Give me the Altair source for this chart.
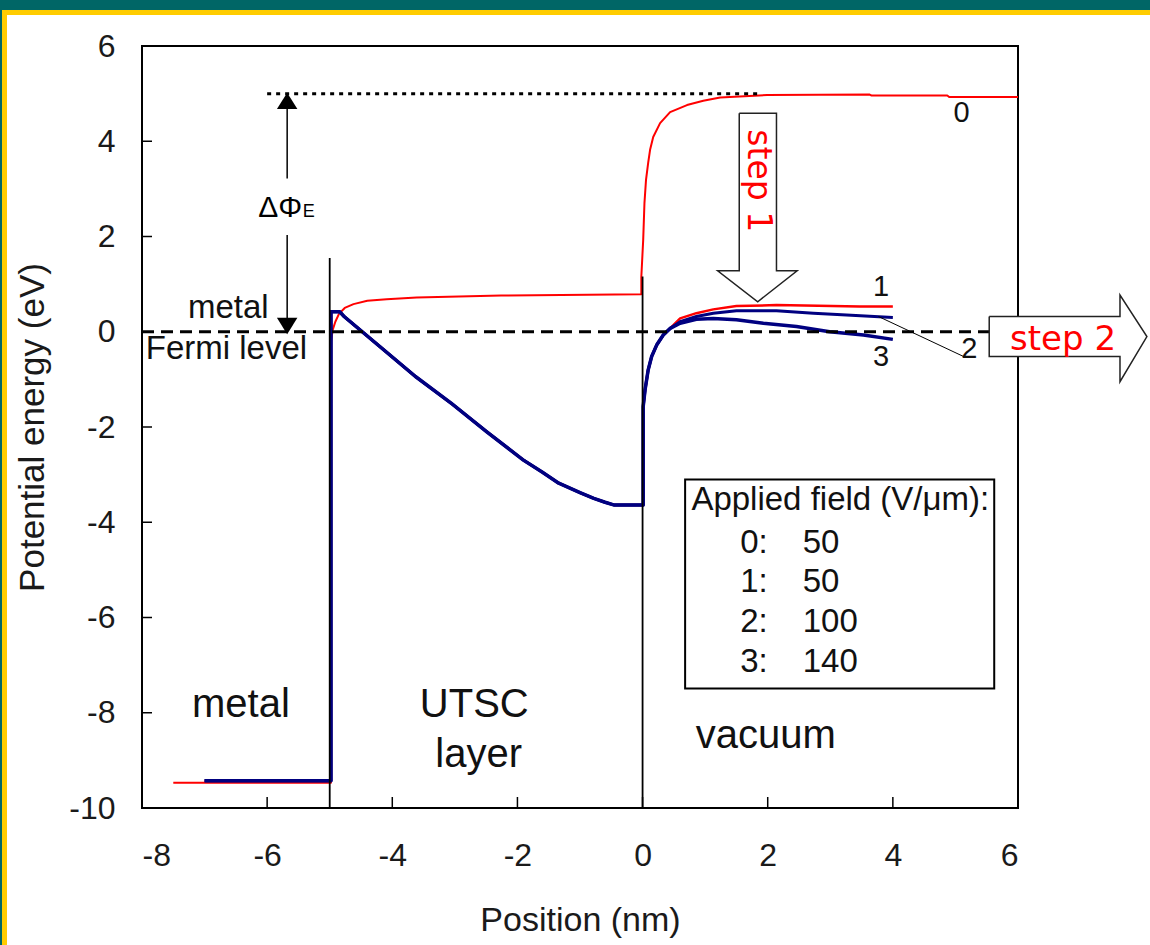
import altair as alt
import pandas as pd

# ---------------- data ----------------
X_DOMAIN = [-8, 6]
Y_DOMAIN = [-10, 6]
x_tick_values = [-8, -6, -4, -2, 0, 2, 4, 6]
y_tick_values = [-10, -8, -6, -4, -2, 0, 2, 4, 6]
x_inner_ticks = [-6, -4, -2, 0, 2, 4]
y_inner_ticks = [-8, -6, -4, -2, 0, 2, 4]

# curve 0 (50 V/um, before step 1)
curve0_x = [-7.5, -4.98, -4.98, -4.95, -4.91, -4.85, -4.76, -4.62, -4.40, -4.09,
            -3.61, -2.26, -0.02, -0.02, 0.01, 0.03, 0.055, 0.09, 0.12, 0.17,
            0.28, 0.44, 0.71, 0.97, 1.24, 1.99, 3.63, 3.66, 4.87, 4.90, 6.0]
curve0_y = [-9.47, -9.47, -0.20, 0.05, 0.21, 0.38, 0.50, 0.58, 0.65, 0.68,
            0.72, 0.76, 0.79, 1.15, 1.93, 2.70, 3.19, 3.55, 3.82, 4.09,
            4.38, 4.61, 4.76, 4.85, 4.92, 4.97, 4.98, 4.96, 4.96, 4.93, 4.93]

# shared part of curves 1-3 (metal + UTSC layer)
layer_x = [-7.0, -4.98, -4.98, -4.84, -4.77, -4.48, -4.20, -3.63, -3.06, -2.49,
           -1.91, -1.60, -1.34, -1.00, -0.78, -0.60, -0.45, 0.01]
layer_y = [-9.43, -9.43, 0.42, 0.42, 0.32, 0.0, -0.31, -0.94, -1.50, -2.10,
           -2.69, -2.95, -3.18, -3.38, -3.50, -3.58, -3.64, -3.64]
# shared rise in vacuum
rise_x = [0.01, 0.04, 0.09, 0.145, 0.225, 0.33, 0.44]
rise_y = [-1.57, -1.22, -0.80, -0.52, -0.28, -0.07, 0.07]
# vacuum tails
tail1_x = [0.60, 0.86, 1.13, 1.50, 2.14, 3.47, 4.0]
tail1_y = [0.28, 0.39, 0.47, 0.54, 0.56, 0.53, 0.53]
tail2_x = [0.60, 0.86, 1.13, 1.50, 2.14, 2.73, 3.26, 4.0]
tail2_y = [0.21, 0.32, 0.39, 0.44, 0.44, 0.39, 0.35, 0.30]
tail3_x = [0.60, 0.86, 1.13, 1.50, 1.93, 2.46, 2.99, 3.53, 4.0]
tail3_y = [0.18, 0.26, 0.28, 0.25, 0.18, 0.11, 0.0, -0.07, -0.16]

curve_names = ["0", "1", "2", "3"]
curve_colors = ["#ff0000", "#ff0000", "#000080", "#000080"]
curve_widths = [2.0, 3.5, 3.5, 3.5]

# boundaries
boundary_x = [-5, 0]
boundary_top = [1.55, 1.16]
boundary_bottom = [-10, -10]

# reference lines
vacuum_level_x = [-6.0, 1.9]
vacuum_level_y = 5.0
fermi_x = [-8.0, 5.6]
fermi_y = 0.0

# work-function arrow
dphi_x = -5.68
dphi_seg_top = [5.0, 2.03]
dphi_seg_bottom = [3.22, 0.2]
dphi_head_up_y = 5.02
dphi_head_down_y = -0.05

# legend box
legbox = dict(x=0.68, x2=5.62, y=-3.10, y2=-7.49)
legend_title = "Applied field (V/μm):"
legend_ids = ["0:", "1:", "2:", "3:"]
legend_vals = ["50", "50", "100", "140"]
legend_rows_y = [-4.43, -5.25, -6.09, -6.93]

# curve labels
clabel_text = ["0", "1", "2", "3"]
clabel_x = [5.10, 3.81, 5.22, 3.81]
clabel_y = [4.60, 0.94, -0.36, -0.54]
leader_x = [3.77, 5.13]
leader_y = [0.32, -0.52]

# region labels
region_text = ["metal", "UTSC", "layer", "vacuum"]
region_x = [-6.42, -2.69, -2.62, 1.97]
region_y = [-8.09, -8.09, -9.14, -8.74]

# block arrows (outline polygons + fill pieces)
step1_outline_x = [1.545, 2.14, 2.14, 2.47, 1.84, 1.20, 1.545, 1.545]
step1_outline_y = [4.59, 4.59, 1.28, 1.28, 0.63, 1.28, 1.28, 4.59]
step1_shaft = dict(x=1.545, x2=2.14, y=4.59, y2=1.28)
step1_head_y = [1.28, 0.63]
step1_head_xl = [1.20, 1.84]
step1_head_xr = [2.47, 1.84]

step2_outline_x = [5.54, 7.63, 7.63, 8.06, 7.63, 7.63, 5.54, 5.54]
step2_outline_y = [0.32, 0.32, 0.77, -0.10, -1.05, -0.52, -0.52, 0.32]
step2_shaft = dict(x=5.54, x2=7.63, y=0.32, y2=-0.52)
step2_head_x = [7.63, 8.06]
step2_head_yt = [0.77, -0.10]
step2_head_yb = [-1.05, -0.10]

# ---------------- tables ----------------
rows = []
def add(name, xs_, ys_):
    for i, (a, b) in enumerate(zip(xs_, ys_)):
        rows.append({"curve": name, "i": i, "x": a, "y": b})

add("0", curve0_x, curve0_y)
for name, tx, ty in [("1", tail1_x, tail1_y), ("2", tail2_x, tail2_y), ("3", tail3_x, tail3_y)]:
    add(name, layer_x + rise_x + tx, layer_y + rise_y + ty)
curves_df = pd.DataFrame(rows)

FONT = "Liberation Sans"
TXT = "#111111"

xs = alt.Scale(domain=X_DOMAIN, nice=False, zero=False)
ys = alt.Scale(domain=Y_DOMAIN, nice=False, zero=False)
XAXIS = alt.Axis(values=x_tick_values, title="Position (nm)", ticks=False,
                 domain=False, grid=False, labelPadding=32, titlePadding=32,
                 labelExpr="'' + datum.value", titleFontSize=34)
YAXIS = alt.Axis(values=y_tick_values, title="Potential energy (eV)", ticks=False,
                 domain=False, grid=False, labelPadding=27, titlePadding=18,
                 labelExpr="'' + datum.value", titleFontSize=35)

def X(f):
    return alt.X(f, type="quantitative", scale=xs, axis=XAXIS)

def Y(f):
    return alt.Y(f, type="quantitative", scale=ys, axis=YAXIS)

# ---------------- layers ----------------
W, H = 876, 762
one = alt.Data(values=[{}])

def deco(x0, x1, y0, y1, color):
    return alt.Chart(one).mark_rect(color=color).encode(
        x=alt.value(x0), x2=alt.value(x1), y=alt.value(y0), y2=alt.value(y1))

decor = [
    deco(-142, 1008, -46, -36, "#006666"),
    deco(-142, -140, -46, 899, "#006666"),
    deco(-140, 1008, -36, -31, "#ffcc00"),
    deco(-140, -135, -36, 899, "#ffcc00"),
]

curves = alt.Chart(curves_df).mark_line(strokeJoin="round").encode(
    x=X("x"),
    y=Y("y"),
    color=alt.Color("curve:N", scale=alt.Scale(domain=curve_names, range=curve_colors), legend=None),
    strokeWidth=alt.StrokeWidth("curve:N", scale=alt.Scale(domain=curve_names, range=curve_widths), legend=None),
    order=alt.Order("i:Q"),
)

bnd_df = pd.DataFrame({"x": boundary_x, "y": boundary_top, "y2": boundary_bottom})
boundaries = alt.Chart(bnd_df).mark_rule(color="black", strokeWidth=1.8).encode(
    x=X("x"), y=Y("y"), y2="y2")

vac_df = pd.DataFrame({"x": [vacuum_level_x[0]], "x2": [vacuum_level_x[1]], "y": [vacuum_level_y]})
vac_line = alt.Chart(vac_df).mark_rule(color="black", strokeWidth=3, strokeDash=[4, 5]).encode(
    x=X("x"), x2="x2", y=Y("y"))

fermi_df = pd.DataFrame({"x": [fermi_x[0]], "x2": [fermi_x[1]], "y": [fermi_y]})
fermi_line = alt.Chart(fermi_df).mark_rule(color="black", strokeWidth=3, strokeDash=[12, 7]).encode(
    x=X("x"), x2="x2", y=Y("y"))

dphi_df = pd.DataFrame({"x": [dphi_x, dphi_x], "y": dphi_seg_top, "y2": dphi_seg_bottom})
dphi_lines = alt.Chart(dphi_df).mark_rule(color="black", strokeWidth=1.5).encode(
    x=X("x"), y=Y("y"), y2="y2")
head_up = alt.Chart(pd.DataFrame({"x": [dphi_x], "y": [dphi_head_up_y]})).mark_point(
    shape="M0,0L1,1.6L-1,1.6Z", size=420, filled=True, color="black", opacity=1).encode(
    x=X("x"), y=Y("y"))
head_down = alt.Chart(pd.DataFrame({"x": [dphi_x], "y": [dphi_head_down_y]})).mark_point(
    shape="M0,0L1,-1.6L-1,-1.6Z", size=420, filled=True, color="black", opacity=1).encode(
    x=X("x"), y=Y("y"))

dphi_text = alt.Chart(pd.DataFrame({"t": ["ΔΦ"], "x": [-5.44], "y": [2.41]})).mark_text(
    font=FONT, fontSize=30, align="right", baseline="alphabetic", color="black").encode(
    x=X("x"), y=Y("y"), text="t:N")
dphi_sub = alt.Chart(pd.DataFrame({"t": ["E"], "x": [-5.43], "y": [2.41]})).mark_text(
    font=FONT, fontSize=18, align="left", baseline="alphabetic", color="black").encode(
    x=X("x"), y=Y("y"), text="t:N")

fermi_text = alt.Chart(pd.DataFrame({"t": ["metal", "Fermi level"], "x": [-6.62, -6.65], "y": [0.28, -0.57]})).mark_text(
    font=FONT, fontSize=33, align="center", baseline="alphabetic", color=TXT).encode(
    x=X("x"), y=Y("y"), text="t:N")

legend_box = alt.Chart(pd.DataFrame([legbox])).mark_rect(fill="white", stroke="black", strokeWidth=2).encode(
    x=X("x"), x2="x2", y=Y("y"), y2="y2")
leg_title = alt.Chart(pd.DataFrame({"t": [legend_title], "x": [0.78], "y": [-3.54]})).mark_text(
    font=FONT, fontSize=33, align="left", baseline="middle", color=TXT).encode(
    x=X("x"), y=Y("y"), text="t:N")
leg_ids = alt.Chart(pd.DataFrame({"t": legend_ids, "x": [1.56] * 4, "y": legend_rows_y})).mark_text(
    font=FONT, fontSize=33, align="left", baseline="middle", color=TXT).encode(
    x=X("x"), y=Y("y"), text="t:N")
leg_vals = alt.Chart(pd.DataFrame({"t": legend_vals, "x": [2.56] * 4, "y": legend_rows_y})).mark_text(
    font=FONT, fontSize=33, align="left", baseline="middle", color=TXT).encode(
    x=X("x"), y=Y("y"), text="t:N")

clabels = alt.Chart(pd.DataFrame({"t": clabel_text, "x": clabel_x, "y": clabel_y})).mark_text(
    font=FONT, fontSize=29, align="center", baseline="middle", color=TXT).encode(
    x=X("x"), y=Y("y"), text="t:N")
leader = alt.Chart(pd.DataFrame({"x": [leader_x[0]], "x2": [leader_x[1]], "y": [leader_y[0]], "y2": [leader_y[1]]})).mark_rule(
    color="black", strokeWidth=1).encode(x=X("x"), x2="x2", y=Y("y"), y2="y2")

regions = alt.Chart(pd.DataFrame({"t": region_text, "x": region_x, "y": region_y})).mark_text(
    font=FONT, fontSize=40, align="center", baseline="alphabetic", color=TXT).encode(
    x=X("x"), y=Y("y"), text="t:N")

# step 1 arrow
s1_shaft = alt.Chart(pd.DataFrame([step1_shaft])).mark_rect(fill="white").encode(
    x=X("x"), x2="x2", y=Y("y"), y2="y2")
s1_head = alt.Chart(pd.DataFrame({"y": step1_head_y, "x": step1_head_xl, "x2": step1_head_xr})).mark_area(
    orient="horizontal", fill="white").encode(y=Y("y"), x=X("x"), x2="x2")
s1_outline = alt.Chart(pd.DataFrame({"i": range(len(step1_outline_x)), "x": step1_outline_x, "y": step1_outline_y})).mark_line(
    color="#222", strokeWidth=1.5).encode(x=X("x"), y=Y("y"), order=alt.Order("i:Q"))
step1_text = alt.Chart(pd.DataFrame({"t": ["step 1"], "x": [1.84], "y": [3.17]})).mark_text(
    font="DejaVu Sans", fontSize=33, angle=90, align="center", baseline="middle", color="#ff0000").encode(
    x=X("x"), y=Y("y"), text="t:N")

# step 2 arrow
s2_shaft = alt.Chart(pd.DataFrame([step2_shaft])).mark_rect(fill="white").encode(
    x=X("x"), x2="x2", y=Y("y"), y2="y2")
s2_head = alt.Chart(pd.DataFrame({"x": step2_head_x, "y": step2_head_yt, "y2": step2_head_yb})).mark_area(
    orient="vertical", fill="white").encode(x=X("x"), y=Y("y"), y2="y2")
s2_outline = alt.Chart(pd.DataFrame({"i": range(len(step2_outline_x)), "x": step2_outline_x, "y": step2_outline_y})).mark_line(
    color="#222", strokeWidth=1.5).encode(x=X("x"), y=Y("y"), order=alt.Order("i:Q"))
step2_text = alt.Chart(pd.DataFrame({"t": ["step 2"], "x": [6.72], "y": [-0.17]})).mark_text(
    font="DejaVu Sans", fontSize=34, align="center", baseline="middle", color="#ff0000").encode(
    x=X("x"), y=Y("y"), text="t:N")

yt = alt.Chart(pd.DataFrame({"y": y_inner_ticks})).mark_rule(color="black", strokeWidth=1.5).encode(
    y=Y("y"), x=alt.value(0), x2=alt.value(10))
xt = alt.Chart(pd.DataFrame({"x": x_inner_ticks})).mark_rule(color="black", strokeWidth=1.5).encode(
    x=X("x"), y=alt.value(H), y2=alt.value(H - 11))

chart = alt.layer(
    curves, *decor, boundaries, vac_line, fermi_line,
    dphi_lines, head_up, head_down, dphi_text, dphi_sub, fermi_text,
    legend_box, leg_title, leg_ids, leg_vals, clabels, leader, regions,
    s1_shaft, s1_head, s1_outline, step1_text,
    s2_shaft, s2_head, s2_outline, step2_text, yt, xt,
).properties(
    width=W, height=H,
    padding=0,
    background="white",
).configure_view(
    stroke="black", strokeWidth=2
).configure_axis(
    labelFont=FONT, titleFont=FONT, labelFontSize=32,
    labelColor="#1a1a1a", titleColor="#1a1a1a", titleFontWeight="normal",
)

chart.save("out.html", embed_options={"renderer": "svg", "actions": False})
